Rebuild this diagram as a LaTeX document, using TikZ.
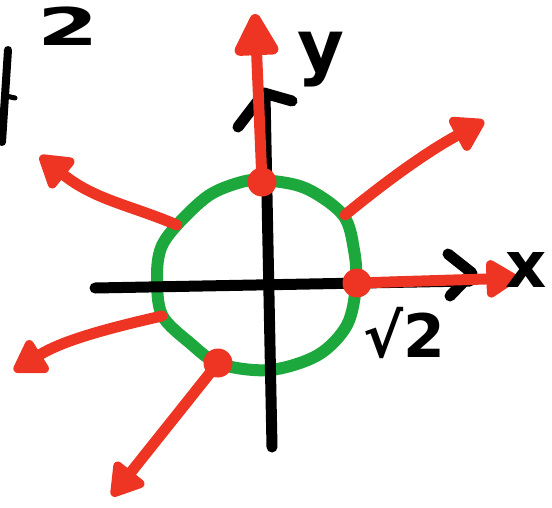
\documentclass[tikz,border=0pt]{standalone}
\usepackage{fontspec}
\setmainfont{DejaVu Sans}
\usetikzlibrary{arrows.meta}
\definecolor{pred}{HTML}{EE3524}
\definecolor{pgreen}{HTML}{1CA83C}
\tikzset{
  blk/.style={line width=11pt, line cap=round, line join=round, black},
  grn/.style={line width=12pt, line cap=round, line join=round, pgreen},
  redarrow/.style={line width=11pt, line cap=round, pred, -{Triangle[round, length=36pt, width=42pt]}},
  bigarrow/.style={line width=11pt, line cap=round, pred, -{Triangle[round, length=48pt, width=48pt]}},
  dot/.style={circle, fill=pred, minimum size=29pt, inner sep=0pt},
  lbl/.style={inner sep=0pt, text=black, font=\bfseries}
}
\begin{document}
\begin{tikzpicture}[x=1pt,y=-1pt]
\useasboundingbox (0,0) rectangle (552,507);
% partial text fragment at the left edge
\draw[blk, line width=8pt] (8,50) -- (2,142);
\draw[blk, line width=5pt] (6,96) -- (15,98);
\node[lbl, font=\bfseries\fontsize{52}{52}\selectfont, xscale=1.7, transform shape] (sq) at (68,26) {2};
% green curve
\draw[grn] plot[smooth cycle, tension=0.55] coordinates {
  (262,180) (305,188) (343,215) (354,250) (356,285) (347,325) (318,355)
  (270,370) (220,364) (190,343) (162,315) (157,277) (161,248) (177,225)
  (208,196) (238,183)};
% axes
\coordinate (xl) at (95,288);
\coordinate (xr) at (470,281);
\coordinate (yb) at (272,447);
\coordinate (yt) at (265,95);
\draw[blk] (xl) -- (xr);
\draw[blk] (448,254) -- (472,273) -- (450,296);
\draw[blk] (yb) -- (yt);
\draw[blk] (238,127) -- (264,93) -- (292,101);
% points
\node[dot] (p1) at (262,182) {};
\node[dot] (p2) at (357,283) {};
\node[dot] (p3) at (218,363) {};
\coordinate (q1) at (345,215);
\coordinate (q2) at (177,225);
\coordinate (q3) at (162,316);
% arrow ends
\coordinate (t1) at (255,14);
\coordinate (t2) at (484,121);
\coordinate (t3) at (518,278);
\coordinate (t4) at (40,156);
\coordinate (t5) at (14,371);
\coordinate (t6) at (112,496);
% red arrows
\draw[bigarrow] (p1.center) -- (t1);
\draw[redarrow] (q1) .. controls (390,178) and (430,150) .. (t2);
\draw[redarrow] (p2.center) -- (t3);
\draw[redarrow] (q2) .. controls (130,205) and (95,200) .. (t4);
\draw[redarrow] (q3) .. controls (100,330) and (60,342) .. (t5);
\draw[redarrow] (p3.center) -- (t6);
% labels
\node[lbl, font=\bfseries\fontsize{72}{72}\selectfont] (ylab) at (321,60) {y};
\node[lbl, font=\bfseries\fontsize{64}{64}\selectfont] (xlab) at (526,270) {x};
\node[lbl, font=\bfseries\fontsize{60}{60}\selectfont] (r2) at (404,333) {√2};
\end{tikzpicture}
\end{document}
